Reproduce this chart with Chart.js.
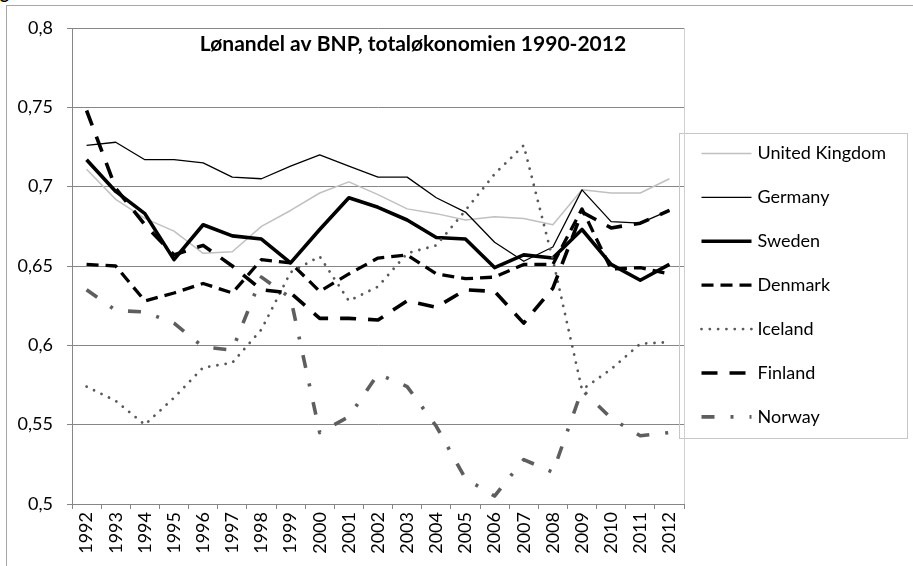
<!DOCTYPE html>
<html>
<head>
<meta charset="utf-8">
<script src="https://cdn.jsdelivr.net/npm/chart.js@4.4.1/dist/chart.umd.min.js"></script>
<style>
  html, body { margin: 0; padding: 0; background: #fff; overflow: hidden; }
  #wrap { position: relative; width: 913px; height: 566px; overflow: hidden; }
  #frame { position: absolute; left: 6px; top: 5px; width: 1000px; height: 1000px; border: 1px solid #a6a6a6; }
  #cap { position: absolute; left: 0; top: -18px; font: bold 17px Lato, sans-serif; }
  canvas { position: absolute; left: 0; top: 0; }
</style>
</head>
<body>
<div id="wrap">
  <div id="cap">g</div>
  <div id="frame"></div>
  <canvas id="c" width="913" height="566"></canvas>
</div>
<script>
// values (lønandel av BNP)
const years = ['1992','1993','1994','1995','1996','1997','1998','1999','2000','2001','2002',
               '2003','2004','2005','2006','2007','2008','2009','2010','2011','2012'];
const uk      = [0.711, 0.692, 0.680, 0.672, 0.658, 0.659, 0.675, 0.685, 0.696, 0.703, 0.695,
                 0.686, 0.683, 0.679, 0.681, 0.680, 0.676, 0.698, 0.696, 0.696, 0.705];
const germany = [0.726, 0.728, 0.717, 0.717, 0.715, 0.706, 0.705, 0.713, 0.720, 0.713, 0.706,
                 0.706, 0.693, 0.684, 0.665, 0.653, 0.662, 0.698, 0.678, 0.677, 0.685];
const sweden  = [0.717, 0.697, 0.683, 0.654, 0.676, 0.669, 0.667, 0.652, 0.673, 0.693, 0.687,
                 0.679, 0.668, 0.667, 0.649, 0.657, 0.655, 0.673, 0.651, 0.641, 0.651];
const denmark = [0.651, 0.650, 0.628, 0.633, 0.639, 0.633, 0.654, 0.652, 0.634, 0.645, 0.655,
                 0.657, 0.645, 0.642, 0.643, 0.651, 0.651, 0.686, 0.648, 0.649, 0.645];
const iceland = [0.574, 0.565, 0.550, 0.567, 0.586, 0.589, 0.610, 0.646, 0.656, 0.628, 0.637,
                 0.658, 0.663, 0.685, 0.708, 0.726, 0.654, 0.572, 0.585, 0.601, 0.602];
const finland = [0.748, 0.699, 0.676, 0.657, 0.663, 0.650, 0.635, 0.633, 0.617, 0.617, 0.616,
                 0.628, 0.624, 0.635, 0.634, 0.614, 0.636, 0.684, 0.674, 0.677, 0.685];
const norway  = [0.635, 0.622, 0.621, 0.614, 0.599, 0.597, 0.643, 0.630, 0.545, 0.555, 0.582,
                 0.574, 0.549, 0.516, 0.505, 0.528, 0.520, 0.572, 0.554, 0.543, 0.545];
const yTicks = [0.5, 0.55, 0.6, 0.65, 0.7, 0.75, 0.8];

const FONT = 'Lato';

const series = [
  { label: 'United Kingdom', data: uk,      borderColor: '#c0c0c0', borderWidth: 1.5 },
  { label: 'Germany',        data: germany, borderColor: '#000',    borderWidth: 1.3 },
  { label: 'Sweden',         data: sweden,  borderColor: '#000',    borderWidth: 3.6 },
  { label: 'Denmark',        data: denmark, borderColor: '#000',    borderWidth: 3.3, borderDash: [12, 7] },
  { label: 'Iceland',        data: iceland, borderColor: '#595959', borderWidth: 2.8, borderDash: [0.01, 8.3], borderCapStyle: 'round' },
  { label: 'Finland',        data: finland, borderColor: '#000',    borderWidth: 3.6, borderDash: [16, 12] },
  { label: 'Norway',         data: norway,  borderColor: '#5e5e5e', borderWidth: 3.6, borderDash: [13, 16, 3, 16] }
];

// title sits inside the plot area, so draw it after the chart
const titlePlugin = {
  id: 'insideTitle',
  afterDraw(chart) {
    const ctx = chart.ctx;
    ctx.save();
    ctx.font = 'bold 21px ' + FONT;
    ctx.fillStyle = '#000';
    ctx.textAlign = 'center';
    ctx.textBaseline = 'middle';
    ctx.fillText('Lønandel av BNP, totaløkonomien 1990-2012', 413, 44);
    ctx.restore();
  }
};

// boxed legend overlapping the right edge of the plot
const legendPlugin = {
  id: 'boxLegend',
  afterDraw(chart) {
    const ctx = chart.ctx;
    const left = 679.5, top = 133.5, w = 228, h = 305, rowH = 43.9;
    ctx.save();
    ctx.strokeStyle = '#c6c6c6';
    ctx.lineWidth = 1;
    ctx.setLineDash([]);
    ctx.strokeRect(left, top, w, h);
    chart.data.datasets.forEach((ds, i) => {
      const y = top + 20 + i * rowH;
      ctx.beginPath();
      ctx.setLineDash(ds.borderDash || []);
      ctx.lineCap = ds.borderCapStyle || 'butt';
      ctx.lineWidth = ds.borderWidth;
      ctx.strokeStyle = ds.borderColor;
      ctx.moveTo(left + 22, y);
      ctx.lineTo(left + 72, y);
      ctx.stroke();
      ctx.setLineDash([]);
      ctx.fillStyle = '#000';
      ctx.font = '18px ' + FONT;
      ctx.textBaseline = 'middle';
      ctx.textAlign = 'left';
      ctx.fillText(ds.label, left + 78, y);
    });
    // right border of the plot area shows through the legend box
    const a = chart.chartArea;
    ctx.strokeStyle = '#d0d0d0';
    ctx.lineWidth = 1;
    ctx.beginPath();
    ctx.moveTo(Math.round(a.right) + 0.5, a.top);
    ctx.lineTo(Math.round(a.right) + 0.5, a.bottom);
    ctx.stroke();
    ctx.restore();
  }
};

new Chart(document.getElementById('c'), {
  type: 'line',
  data: {
    labels: years,
    datasets: series.map((s, i) => ({
      ...s,
      fill: false,
      tension: 0,
      pointRadius: 0,
      pointHoverRadius: 0,
      borderJoinStyle: 'round',
      order: series.length - i
    }))
  },
  options: {
    responsive: false,
    animation: false,
    layout: { padding: { top: 28, right: 229, left: 0, bottom: 0 } },
    plugins: { legend: { display: false }, tooltip: { enabled: false }, title: { display: false } },
    scales: {
      x: {
        type: 'category',
        offset: true,
        grid: { offset: true, drawOnChartArea: false, drawTicks: true, tickLength: 5, color: '#868686' },
        border: { color: '#868686' },
        ticks: { minRotation: 90, maxRotation: 90, autoSkip: false, padding: 3, color: '#000', font: { family: FONT, size: 18 } },
        afterFit: s => { s.height = 62; }
      },
      y: {
        min: 0.5,
        max: 0.8,
        afterBuildTicks: s => { s.ticks = yTicks.map(v => ({ value: v })); },
        grid: { color: '#868686', tickLength: 5 },
        border: { color: '#868686' },
        ticks: {
          padding: 14, color: '#000', font: { family: FONT, size: 18 },
          callback: v => String(parseFloat(v.toFixed(2))).replace('.', ',')
        },
        afterFit: s => { s.width = 72; }
      }
    }
  },
  plugins: [titlePlugin, legendPlugin]
});
</script>
</body>
</html>
